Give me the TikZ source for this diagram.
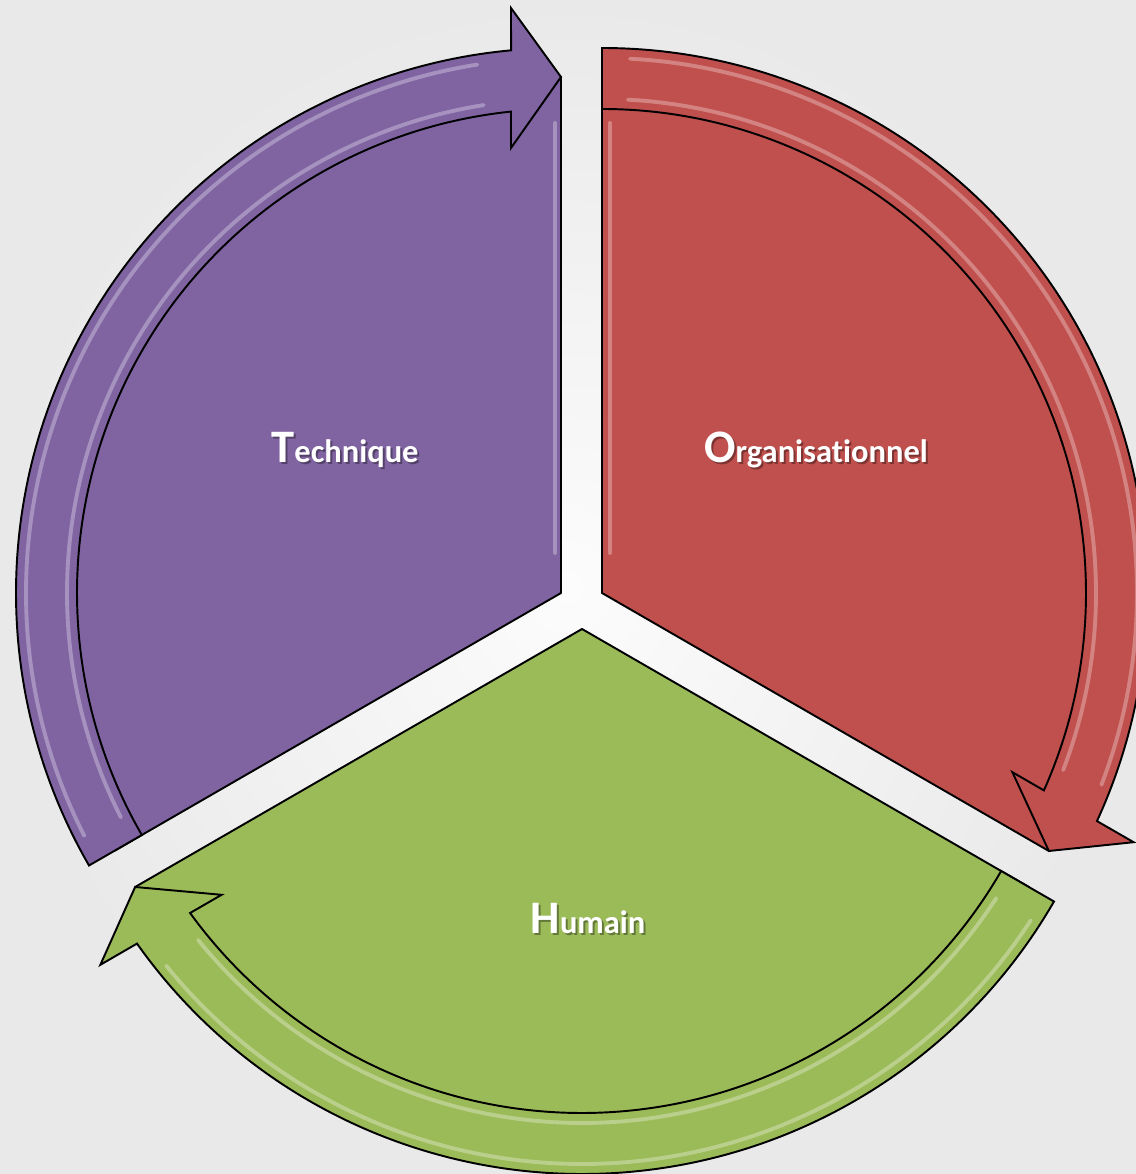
\documentclass[tikz,border=0pt]{standalone}
\usepackage{fontspec}
\setmainfont[Ligatures={NoCommon}]{Carlito}
\usetikzlibrary{calc}
\definecolor{cpurple}{HTML}{8064A2}
\definecolor{cred}{HTML}{C0504D}
\definecolor{cgreen}{HTML}{9BBB59}
\definecolor{bgout}{HTML}{E9E9E9}
\definecolor{bgin}{HTML}{FCFCFC}
\tikzset{
  piestyle/.style={draw=black, line width=1.1pt, line join=round},
  arrowstyle/.style={draw=black, line width=1.1pt, line join=miter},
  glint/.style={draw=white, line width=2.2pt, opacity=0.3, line cap=round},
  labeltext/.style={text=white, font=\bfseries, inner sep=0pt, anchor=base},
  labelshadow/.style={text=black, opacity=0.35, font=\bfseries, inner sep=0pt, anchor=base}
}
\newcommand\piesector[4]{% center, from, to, colour
  \filldraw[piestyle, fill=#4] (#1) -- ($(#1)+(#2:516)$) arc[start angle=#2, end angle=#3, radius=516] -- cycle;
}
\newcommand\cyclearrow[4]{% center, start angle, tip angle, colour
  \pgfmathsetmacro\oend{#3+5.26}
  \pgfmathsetmacro\iend{#3+5.93}
  \pgfmathsetmacro\back{#3+90}
  \filldraw[arrowstyle, fill=#4]
    ($(#1)+(#2:484)$) -- ($(#1)+(#2:545)$)
    arc[start angle=#2, end angle=\oend, radius=545]
    -- ($(#1)+(#3:585)+(\back:50)$)
    -- ($(#1)+(#3:516)$)
    -- ($(#1)+(#3:445)+(\back:50)$)
    -- ($(#1)+(\iend:484)$)
    arc[start angle=\iend, end angle=#2, radius=484] -- cycle;
  \pgfmathsetmacro\gs{#2-(#2-#3)/abs(#2-#3)*3}
  \pgfmathsetmacro\ge{#3+9}
  \draw[glint] ($(#1)+(\gs:535)$) arc[start angle=\gs, end angle=\ge, radius=535];
  \draw[glint] ($(#1)+(\gs:494)$) arc[start angle=\gs, end angle=\ge, radius=494];
}
\newcommand\biglabel[2]{{\fontsize{26.5}{26.5}\selectfont #1}{\fontsize{18.5}{18.5}\selectfont #2}}
\begin{document}
\begin{tikzpicture}[x=0.02cm, y=0.02cm]
\useasboundingbox (0,0) rectangle (1136,1174);
\shade[inner color=bgin, outer color=bgout] (0,0) rectangle (1136,1174);

\coordinate (P) at (561,581);
\coordinate (R) at (602,581);
\coordinate (G) at (582,545);

% purple: Technique
\piesector{P}{90}{210}{cpurple}
\draw[glint] ($(P)+(-6,40)$) -- ($(P)+(-6,470)$);
\cyclearrow{P}{210}{90}{cpurple}

% red: Organisationnel
\piesector{R}{-30}{90}{cred}
\draw[glint] ($(R)+(8,40)$) -- ($(R)+(8,470)$);
\cyclearrow{R}{90}{-30}{cred}

% green: Humain
\piesector{G}{210}{330}{cgreen}
\cyclearrow{G}{-30}{-150}{cgreen}

% labels
\node[labelshadow] (tshadow) at (347,709) {\biglabel{T}{echnique}};
\node[labeltext] (tlabel) at (345,711) {\biglabel{T}{echnique}};
\node[labelshadow] (oshadow) at (818,709) {\biglabel{O}{rganisationnel}};
\node[labeltext] (olabel) at (816,711) {\biglabel{O}{rganisationnel}};
\node[labelshadow] (hshadow) at (590,238) {\biglabel{H}{umain}};
\node[labeltext] (hlabel) at (588,240) {\biglabel{H}{umain}};
\end{tikzpicture}
\end{document}
